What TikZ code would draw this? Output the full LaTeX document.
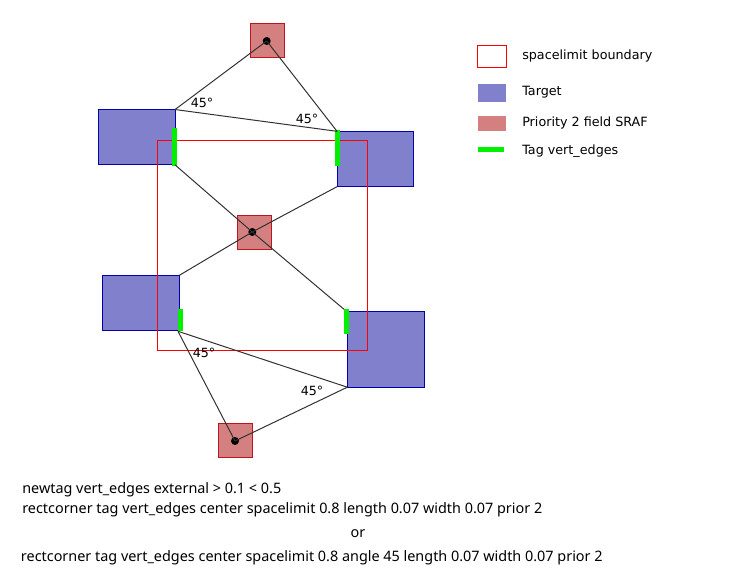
\documentclass[tikz,border=0pt]{standalone}
\usepackage{fontspec}
\setmainfont{DejaVu Sans}
\newfontfamily\rulefont{Noto Sans}
\usetikzlibrary{positioning}
\definecolor{targetfill}{RGB}{128,128,204}
\definecolor{targetedge}{RGB}{0,0,170}
\definecolor{sraffill}{RGB}{212,128,128}
\definecolor{srafedge}{RGB}{190,20,30}
\definecolor{tagcolor}{RGB}{0,240,0}
\definecolor{connector}{RGB}{50,50,50}
\tikzset{
  target/.style={draw=targetedge, fill=targetfill, line width=0.75pt, inner sep=0pt, outer sep=0pt},
  sraf/.style={draw=srafedge, fill=sraffill, line width=0.75pt, inner sep=0pt, outer sep=0pt, minimum width=25.5pt, minimum height=25.5pt},
  limitbox/.style={draw=red, line width=0.75pt, inner sep=0pt, outer sep=0pt},
  tagedge/.style={fill=tagcolor, inner sep=0pt, outer sep=0pt},
  centerdot/.style={circle, fill=black, inner sep=0pt, minimum size=6pt},
  connect/.style={draw=connector, line width=0.75pt},
  anglelabel/.style={font=\fontsize{9.5pt}{11pt}\selectfont, inner sep=0pt},
  legendtext/.style={font=\fontsize{9.55pt}{11pt}\selectfont, anchor=west, inner sep=0pt},
  ruletext/.style={font=\rulefont\fontsize{10.8pt}{12pt}\selectfont, anchor=west, inner sep=0pt}
}
\begin{document}
\begin{tikzpicture}[x=0.75pt,y=-0.75pt]
\useasboundingbox (0,0) rectangle (740,584);
% targets
\node[target, minimum width=57.5pt, minimum height=41.5pt] (targetTL) at (136.7,137.2) {};
\node[target, minimum width=57.5pt, minimum height=41.5pt] (targetTR) at (375.4,159) {};
\node[target, minimum width=58pt, minimum height=41.5pt] (targetBL) at (141,302.8) {};
\node[target, minimum width=58pt, minimum height=57pt] (targetBR) at (386,349.2) {};
% SRAFs
\node[sraf] (srafTop) at (267,41) {};
\node[sraf] (srafMid) at (254.6,232.6) {};
\node[sraf] (srafBot) at (235.2,440.7) {};
\node[centerdot] (dotTop) at (266.7,41) {};
\node[centerdot] (dotMid) at (252.3,232) {};
\node[centerdot] (dotBot) at (235,441) {};
% spacelimit
\node[limitbox, minimum width=157.2pt, minimum height=157.5pt] (limit) at (262.5,245.3) {};
% tags
\node[tagedge, minimum width=3.75pt, minimum height=28pt] (tagTL) at (174.5,147) {};
\node[tagedge, minimum width=3.75pt, minimum height=27pt] (tagTR) at (337.3,147.8) {};
\node[tagedge, minimum width=3.75pt, minimum height=16.5pt] (tagBL) at (180.5,320.3) {};
\node[tagedge, minimum width=3.75pt, minimum height=18.3pt] (tagBR) at (346.5,321.5) {};
% connectors
\draw[connect] (targetTL.north east) -- (dotTop.center);
\draw[connect] (dotTop.center) -- (targetTR.north west);
\draw[connect] (targetTL.north east) -- (targetTR.north west);
\draw[connect] (targetTL.south east) -- (dotMid.center);
\draw[connect] (dotMid.center) -- (tagBR.north west);
\draw[connect] (targetTR.south west) -- (dotMid.center);
\draw[connect] (dotMid.center) -- (targetBL.north east);
\draw[connect] (tagBL.south west) -- (targetBR.south west);
\draw[connect] (tagBL.south west) -- (dotBot.center);
\draw[connect] (dotBot.center) -- (targetBR.south west);
% angles
\node[anglelabel] (angleA) at (202,102.5) {45°};
\node[anglelabel] (angleB) at (307,118.5) {45°};
\node[anglelabel] (angleC) at (204,352.5) {45°};
\node[anglelabel] (angleD) at (312,391) {45°};
% legend
\node[limitbox, fill=white, minimum width=21.5pt, minimum height=16.5pt] (keyLimit) at (492.3,56.3) {};
\node[fill=targetfill, inner sep=0pt, minimum width=21pt, minimum height=13.3pt] (keyTarget) at (492,92.8) {};
\node[fill=sraffill, inner sep=0pt, minimum width=20.8pt, minimum height=11pt] (keySraf) at (491.8,123.3) {};
\node[tagedge, minimum width=19.5pt, minimum height=3.75pt] (keyTag) at (491,149.5) {};
\node[legendtext] (textLimit) at (522,55.5) {spacelimit boundary};
\node[legendtext] (textTarget) at (522,92.5) {Target};
\node[legendtext] (textSraf) at (522,122.5) {Priority 2 field SRAF};
\node[legendtext] (textTag) at (522,151.5) {Tag vert\_edges};
% rule text
\node[ruletext] (ruleA) at (22,489.5) {newtag vert\_edges external > 0.1 < 0.5};
\node[ruletext] (ruleB) at (22,510) {rectcorner tag vert\_edges center spacelimit 0.8 length 0.07 width 0.07 prior 2};
\node[ruletext, anchor=center] (ruleOr) at (358,533.5) {or};
\node[ruletext] (ruleC) at (20.7,557.5) {rectcorner tag vert\_edges center spacelimit 0.8 angle 45 length 0.07 width 0.07 prior 2};
\end{tikzpicture}
\end{document}
